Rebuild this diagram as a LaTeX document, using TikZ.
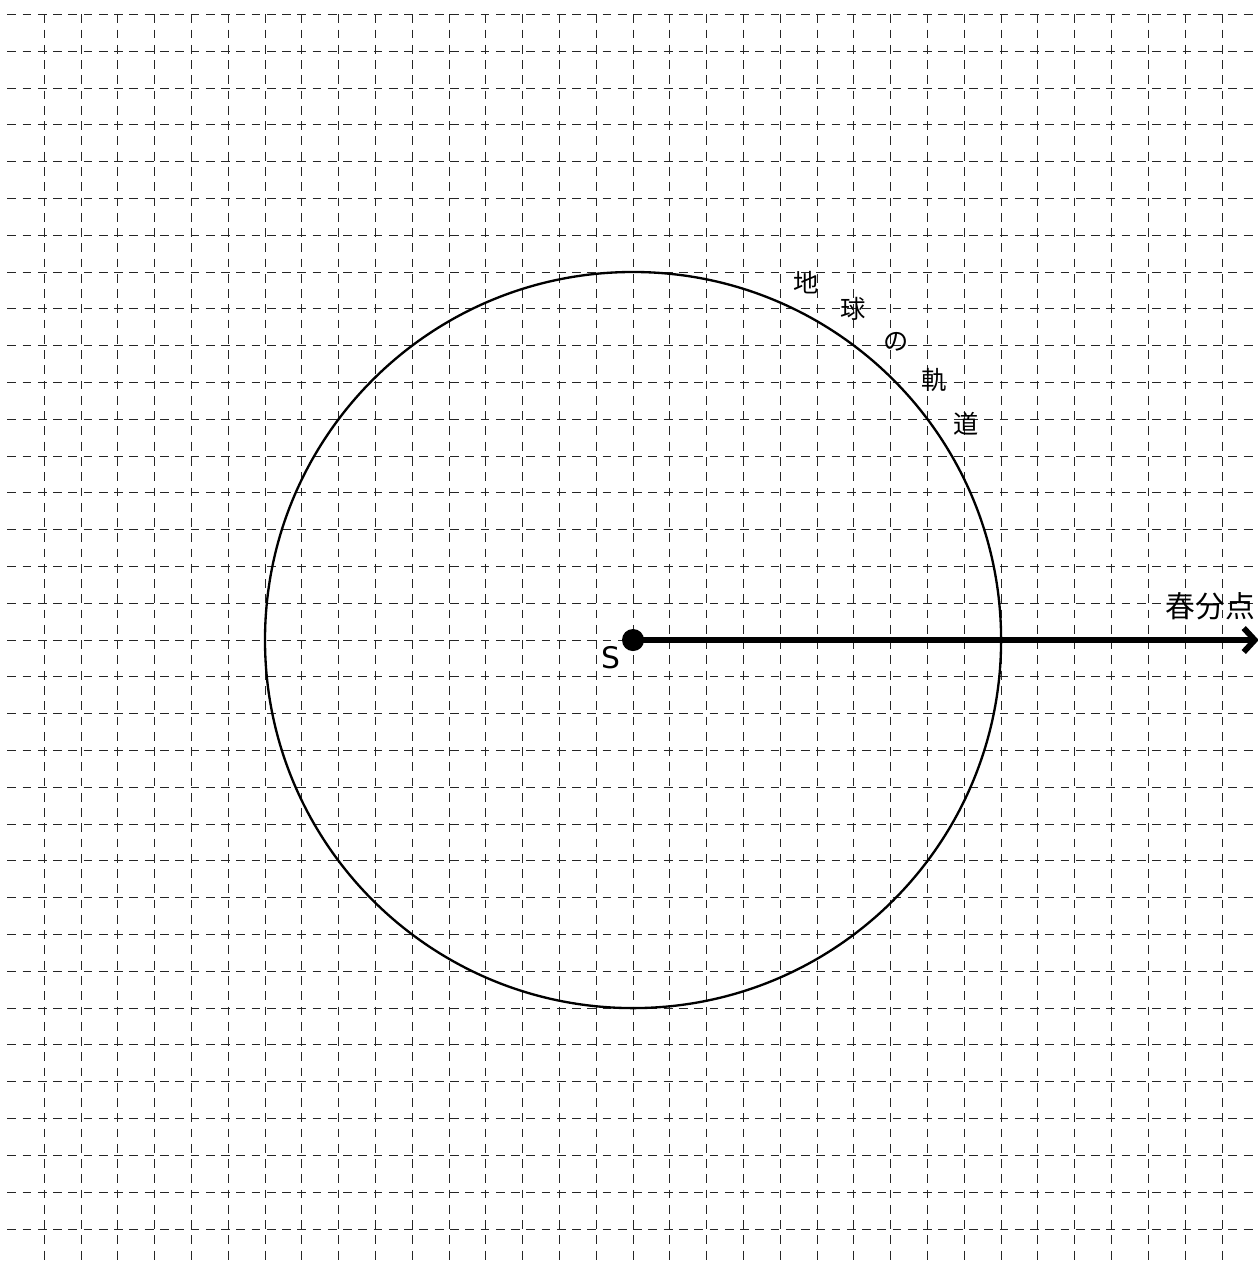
\documentclass[tikz,border=0pt]{standalone}
\usepackage{fontspec}
\setmainfont{DejaVu Sans}
\newfontfamily\jpfont{Noto Sans CJK JP}
\usetikzlibrary{positioning,arrows.meta,calc}

\begin{document}
\begin{tikzpicture}[
    gridline/.style={draw=black!85, line width=0.65pt, dash pattern=on 6.8pt off 5pt},
    orbit/.style={draw=black, line width=1.8pt},
    sun/.style={circle, fill=black, inner sep=0pt, minimum size=0.6cm},
    axis/.style={-{Straight Barb[length=3mm, width=6.5mm]}, draw=black, line width=4.5pt},
    orbitlabel/.style={font=\jpfont\fontsize{19.5}{19.5}\selectfont, inner sep=0pt},
    biglabel/.style={font=\fontsize{23}{23}\selectfont, inner sep=0pt},
]
\useasboundingbox (-17.20,-16.98) rectangle (16.96,17.39);

% grid
\foreach \y in {-17,...,17}
  \draw[gridline] (-17,\y) -- (17,\y);
\foreach \x in {-16,...,16}
  \draw[gridline] (\x,17) -- (\x,-17);

% orbit and sun
\draw[orbit] (0,0) circle (10);
\node[sun] (S) at (0,0) {};
\node[biglabel, below left=-0.05cm and 0.13cm of S] (Slabel) {S};

% direction of the vernal equinox
\coordinate (E) at (17,0);
\draw[axis] (S.center) -- (E);
\node[biglabel, font=\jpfont\fontsize{23}{23}\selectfont] (V) at (15.68,0.92) {春分点};

% label along the orbit
\foreach \c [count=\i] in {地,球,の,軌,道}
  \node[orbitlabel] (L\i) at ({72-7.8*\i}:10.8) {\c};

\end{tikzpicture}
\end{document}
